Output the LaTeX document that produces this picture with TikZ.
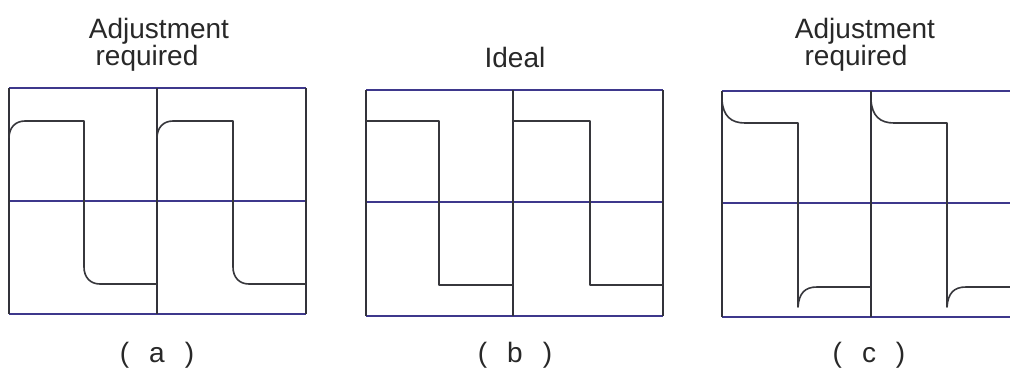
\documentclass[tikz,border=0pt]{standalone}
\usepackage{fontspec}
\setmainfont{Liberation Sans}
\definecolor{hline}{RGB}{62,56,140}
\definecolor{vline}{RGB}{50,50,58}
\definecolor{wavec}{RGB}{55,55,60}
\definecolor{ink}{RGB}{40,40,40}
\begin{document}
\begin{tikzpicture}[x=1pt,y=-1pt,
  frameh/.style={draw=hline,line width=1.4pt},
  framev/.style={draw=vline,line width=1.3pt},
  wave/.style={draw=wavec,line width=1.6pt,line join=round},
  title/.style={anchor=base,font=\fontsize{28}{30}\selectfont,text=ink,inner sep=0pt}]
\useasboundingbox (0,0) rectangle (1010,376);
\fill[white] (0,0) rectangle (1010,376);

% ---- panel (a)
\draw[frameh] (9,88) -- (306,88) (9,201) -- (306,201) (9,314) -- (306,314);
\draw[framev] (9,88) -- (9,314) (157,88) -- (157,314) (306,88) -- (306,314);
\draw[wave] (9,138) .. controls (9,128) and (15,121) .. (25,121) -- (84,121) -- (84,267)
  .. controls (84,277) and (90,284) .. (100,284) -- (157,284);
\draw[wave] (157,138) .. controls (157,128) and (163,121) .. (173,121) -- (233,121) -- (233,267)
  .. controls (233,277) and (239,284) .. (249,284) -- (306,284);
\node[title] (ta1) at (159,38) {Adjustment};
\node[title] (ta2) at (147,65) {required};
\node[title] (la) at (157,362) {(\hspace{20pt}a\hspace{20pt})};

% ---- panel (b)
\draw[frameh] (366,90) -- (663,90) (366,202) -- (663,202) (366,316) -- (663,316);
\draw[framev] (366,90) -- (366,316) (513,90) -- (513,316) (663,90) -- (663,316);
\draw[wave] (366,121) -- (439,121) -- (439,285) -- (513,285);
\draw[wave] (513,121) -- (590,121) -- (590,285) -- (663,285);
\node[title] (tb) at (515,67) {Ideal};
\node[title] (lb) at (515,362) {(\hspace{20pt}b\hspace{20pt})};

% ---- panel (c)
\draw[frameh] (722,91) -- (1010,91) (722,203) -- (1010,203) (722,317) -- (1010,317);
\draw[framev] (722,91) -- (722,317) (871,91) -- (871,317);
\draw[wave] (722,100) .. controls (723,116) and (731,123) .. (745,123) -- (798,123) -- (798,307)
  .. controls (799,293) and (805,287) .. (817,287) -- (871,287);
\draw[wave] (871,100) .. controls (872,116) and (880,123) .. (894,123) -- (947,123) -- (947,307)
  .. controls (948,293) and (954,287) .. (966,287) -- (1010,287);
\node[title] (tc1) at (865,38) {Adjustment};
\node[title] (tc2) at (856,65) {required};
\node[title] (lc) at (869,362) {(\hspace{20pt}c\hspace{20pt})};
\end{tikzpicture}
\end{document}
